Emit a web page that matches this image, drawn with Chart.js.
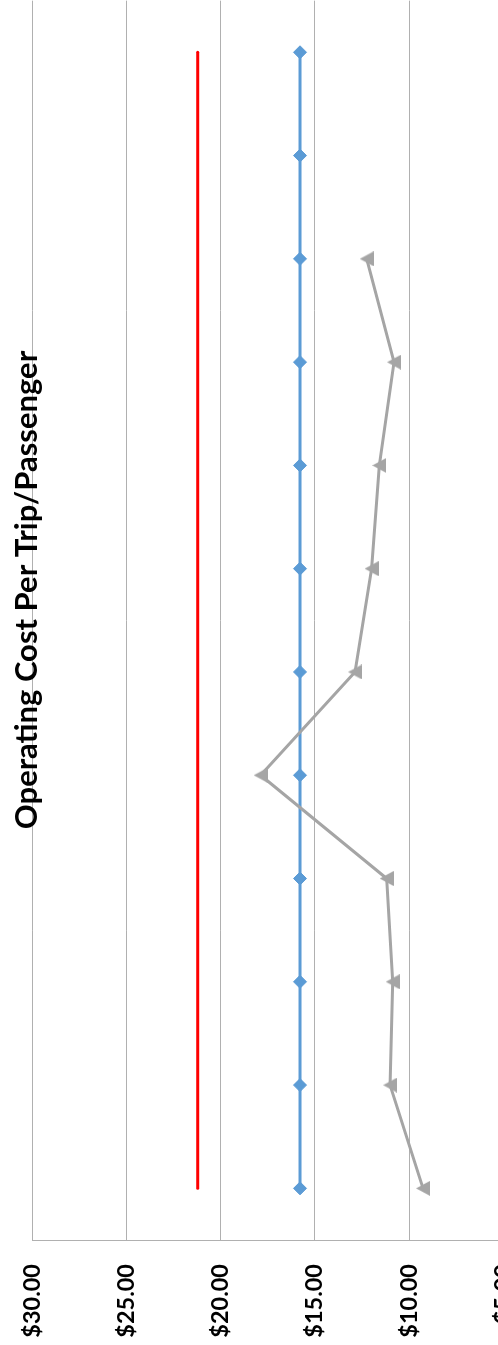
<!DOCTYPE html>
<html>
<head>
<meta charset="utf-8">
<title>Operating Cost Per Trip/Passenger</title>
<script src="https://cdn.jsdelivr.net/npm/chart.js@4/dist/chart.umd.min.js"></script>
<style>
  html, body { margin: 0; padding: 0; width: 498px; height: 1345px; overflow: hidden; background: #ffffff; }
  #wrap { position: absolute; left: 0; top: 0; width: 560px; height: 1345px; }
  canvas { display: block; }
</style>
</head>
<body>
<div id="wrap"><canvas id="chart" width="560" height="1345"></canvas></div>
<script>
// Chart text
const chartTitle = 'Operating Cost Per Trip/Passenger';

// Reporting periods, oldest first (drawn bottom to top)
const periods = ['1', '2', '3', '4', '5', '6', '7', '8', '9', '10', '11', '12'];

// Cost per trip in dollars for each period
const costPerTrip = [9.26, 11.01, 10.87, 11.19, 17.88, 12.87, 11.99, 11.58, 10.80, 12.25, null, null];
const averageCost = [15.79, 15.79, 15.79, 15.79, 15.79, 15.79, 15.79, 15.79, 15.79, 15.79, 15.79, 15.79];
const benchmarkCost = [21.22, 21.22, 21.22, 21.22, 21.22, 21.22, 21.22, 21.22, 21.22, 21.22, 21.22, 21.22];

// Value-axis tick labels
const valueTicks = [30, 25, 20, 15, 10, 5];

// Left-pointing triangle marker, centred in its own box
function triangleMarker(color, w, h) {
  const c = document.createElement('canvas');
  c.width = w; c.height = h;
  const g = c.getContext('2d');
  g.fillStyle = color;
  g.beginPath();
  g.moveTo(0, h / 2);
  g.lineTo(w, 0);
  g.lineTo(w, h);
  g.closePath();
  g.fill();
  return c;
}

// Title drawn along the left edge, reading upwards, over the plot
const sideTitle = {
  id: 'sideTitle',
  afterDraw(chart, args, opts) {
    const ctx = chart.ctx;
    ctx.save();
    ctx.translate(opts.x, opts.y);
    ctx.rotate(-Math.PI / 2);
    ctx.font = opts.font;
    ctx.fillStyle = opts.color;
    ctx.textAlign = 'center';
    ctx.textBaseline = 'alphabetic';
    ctx.fillText(opts.text, 0, 0);
    ctx.restore();
  }
};

const gray = '#A5A5A5';
const blue = '#5B9BD5';
const red = '#FF0000';
const gridColor = '#B0B0B0';

new Chart(document.getElementById('chart'), {
  type: 'line',
  data: {
    labels: periods,
    datasets: [
      {
        label: 'Cost per trip',
        data: costPerTrip,
        borderColor: gray,
        backgroundColor: gray,
        borderWidth: 3,
        borderJoinStyle: 'round',
        pointStyle: triangleMarker(gray, 14, 15),
        pointRadius: 7,
        order: 0
      },
      {
        label: 'Average',
        data: averageCost,
        borderColor: blue,
        backgroundColor: blue,
        borderWidth: 3,
        pointStyle: 'rectRot',
        pointRadius: 6.5,
        pointBorderWidth: 1,
        order: 1
      },
      {
        label: 'Benchmark',
        data: benchmarkCost,
        borderColor: red,
        backgroundColor: red,
        borderWidth: 3,
        borderCapStyle: 'round',
        pointRadius: 0,
        order: 2
      }
    ]
  },
  options: {
    indexAxis: 'y',
    responsive: false,
    animation: false,
    events: [],
    layout: { autoPadding: false, padding: { left: 32.3, right: 56.7, top: 0.65, bottom: 0 } },
    plugins: {
      legend: { display: false },
      tooltip: { enabled: false },
      title: { display: false },
      sideTitle: {
        text: chartTitle,
        x: 36.5,
        y: 590,
        font: 'bold 31px Lato',
        color: '#000000'
      }
    },
    scales: {
      x: {
        type: 'linear',
        position: 'bottom',
        min: 5,
        max: 30,
        reverse: true,
        afterBuildTicks: (s) => { s.ticks = valueTicks.map(v => ({ value: v })); },
        afterFit: (s) => { s.height = 105; },
        grid: { color: gridColor, lineWidth: 1, drawTicks: false },
        border: { color: gridColor, width: 1 },
        ticks: {
          minRotation: 90,
          maxRotation: 90,
          autoSkip: false,
          padding: 24,
          color: '#000000',
          font: { family: 'Lato', weight: 'bold', size: 23.5 },
          callback: (v) => '$' + Number(v).toFixed(2)
        }
      },
      y: {
        type: 'category',
        display: false,
        reverse: true,
        offset: true
      }
    }
  },
  plugins: [sideTitle]
});
</script>
</body>
</html>
